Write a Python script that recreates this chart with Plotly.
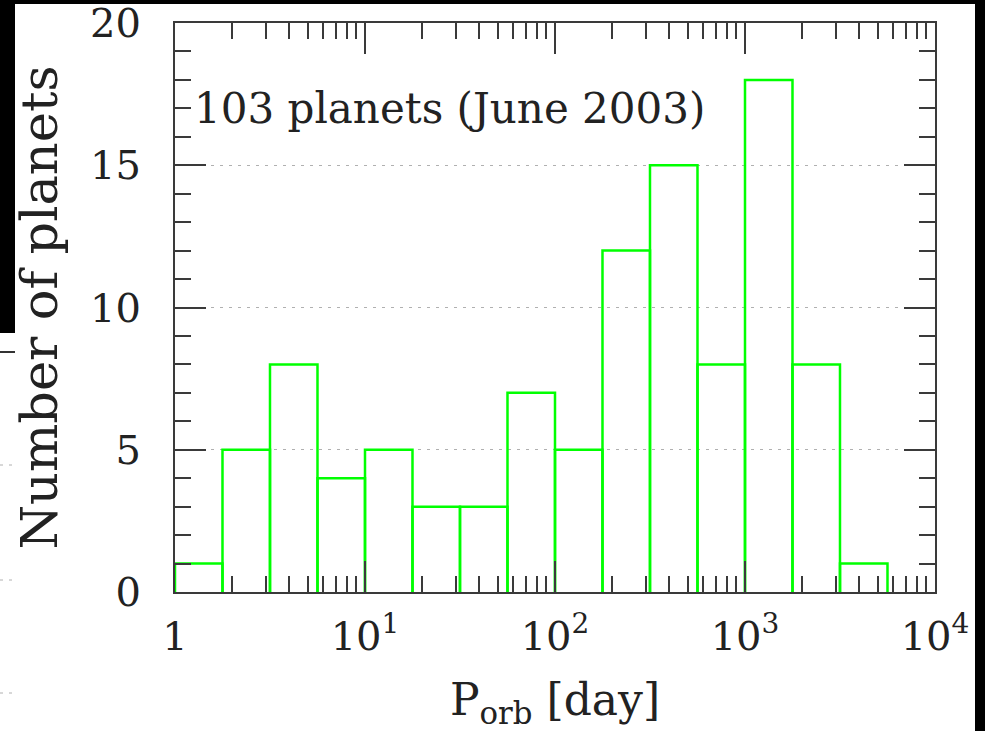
import plotly.graph_objects as go

# Histogram of orbital periods (103 planets, June 2003)
bin_edges_days = [1, 1.778, 3.162, 5.623, 10, 17.78, 31.62, 56.23, 100,
                  177.8, 316.2, 562.3, 1000, 1778, 3162, 5623]
counts = [1, 5, 8, 4, 5, 3, 3, 7, 5, 12, 15, 8, 18, 8, 1]
x_tick_vals = [1, 10, 100, 1000, 10000]
x_tick_text = ["1", "10<sup>1</sup>", "10<sup>2</sup>", "10<sup>3</sup>", "10<sup>4</sup>"]
y_tick_vals = [0, 5, 10, 15, 20]
annotation_text = "103 planets (June 2003)"

FONT = "DejaVu Serif"
TXT = "#222222"
AX = "#3a3a3a"

# outline of each bin as a rectangle
xs, ys = [], []
for i, c in enumerate(counts):
    lo, hi = bin_edges_days[i], bin_edges_days[i + 1]
    xs += [lo, lo, hi, hi, None]
    ys += [0, c, c, 0, None]

fig = go.Figure()
fig.add_trace(go.Scatter(x=xs, y=ys, mode="lines",
                         line=dict(color="#00ff00", width=2.5),
                         hoverinfo="skip", showlegend=False))

W, H = 985, 731
L, R, T, B = 175, 50, 23, 139
pw, ph = W - L - R, H - T - B

def px(x):
    return (x - L) / pw

def py(y):
    return (H - B - y) / ph

minor_x = [m * 10 ** d for d in range(4) for m in range(2, 10)]

fig.update_layout(
    width=W, height=H,
    margin=dict(l=L, r=R, t=T, b=B),
    paper_bgcolor="white", plot_bgcolor="white",
    font=dict(family=FONT, color=TXT),
    xaxis=dict(
        type="log", range=[0, 4], automargin=False,
        tickmode="array", tickvals=x_tick_vals, ticktext=x_tick_text,
        ticks="inside", ticklen=31, tickwidth=2, tickcolor=AX,
        showline=True, linecolor=AX, linewidth=2, mirror="allticks",
        showgrid=False, zeroline=False,
        tickfont=dict(family=FONT, size=40, color=TXT),
        ticklabelstandoff=8,
        minor=dict(tickmode="array", tickvals=minor_x, ticks="inside",
                   ticklen=16, tickwidth=2, tickcolor=AX, showgrid=False),
        title=dict(text="P<sub>orb</sub> [day]",
                   font=dict(family=FONT, size=44, color=TXT), standoff=34),
    ),
    yaxis=dict(
        range=[0, 20], automargin=False,
        tickmode="array", tickvals=y_tick_vals,
        ticks="inside", ticklen=31, tickwidth=2, tickcolor=AX,
        showline=True, linecolor=AX, linewidth=2, mirror="allticks",
        showgrid=True, gridcolor="#b0b0b0", gridwidth=1, griddash="3px,6px",
        zeroline=False,
        tickfont=dict(family=FONT, size=40, color=TXT),
        ticklabelstandoff=24,
        minor=dict(dtick=1, ticks="inside", ticklen=16, tickwidth=2,
                   tickcolor=AX, showgrid=False),
        title=dict(text="Number of planets",
                   font=dict(family=FONT, size=51, color=TXT), standoff=16),
    ),
    annotations=[dict(text=annotation_text, xref="paper", yref="paper",
                      x=px(192), y=py(108), xanchor="left", yanchor="middle",
                      showarrow=False,
                      font=dict(family=FONT, size=42, color=TXT))],
)

# black framing areas around the captured image
black = dict(type="rect", xref="paper", yref="paper", fillcolor="black",
             line=dict(width=0), layer="above")
shapes = [
    dict(black, x0=px(0), x1=px(W), y0=py(4), y1=py(0)),
    dict(black, x0=px(0), x1=px(15), y0=py(333), y1=py(0)),
    dict(black, x0=px(975), x1=px(W), y0=py(H), y1=py(0)),
    dict(type="line", xref="paper", yref="paper", x0=px(0), x1=px(15),
         y0=py(352), y1=py(352), line=dict(color="#333333", width=2)),
]
for yy in (465, 580, 693):
    shapes.append(dict(type="line", xref="paper", yref="paper",
                       x0=px(0), x1=px(15), y0=py(yy), y1=py(yy),
                       line=dict(color="#b0b0b0", width=1, dash="3px,6px")))
fig.update_layout(shapes=shapes)

fig.write_html(
    "out.html",
    config={"displayModeBar": False},
    post_script=("document.documentElement.style.margin='0';"
                 "document.body.style.margin='0';"
                 "document.body.style.padding='0';"
                 "document.body.style.overflow='hidden';"
                 "var gd=document.getElementById('{plot_id}');"
                 "gd.style.position='absolute';gd.style.top='0px';"
                 "gd.style.left='0px';"),
)
